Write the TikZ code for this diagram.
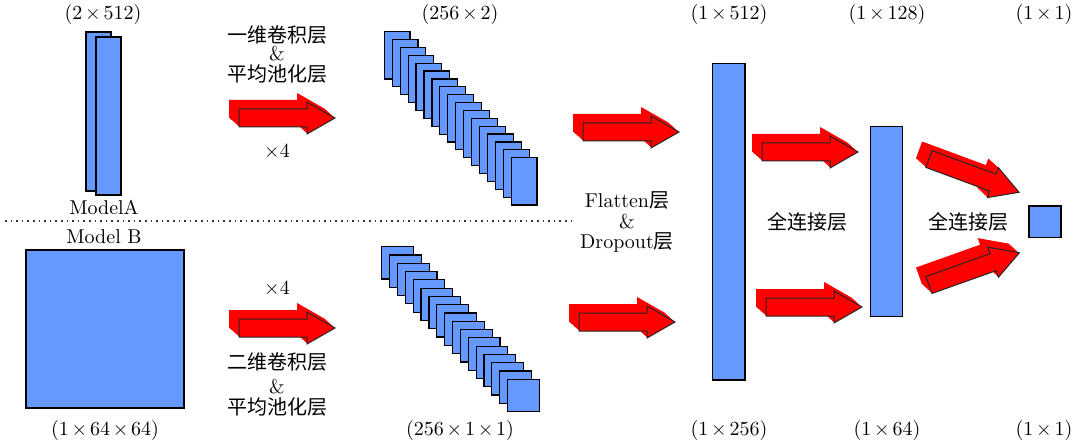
\documentclass[tikz,border=0pt]{standalone}
\usepackage{fontspec}
\newfontfamily\cjk{Noto Sans CJK SC}
\definecolor{layerblue}{HTML}{6699FF}
\definecolor{arrowred}{HTML}{FF0000}
% tighter multiplication sign for the shape labels
\newcommand\tm{\mkern2.5mu{\times}\mkern2.5mu}

% Block arrow with an extruded red body: #1,#2 = tail centre, #3 = angle
\newcommand\fatarrow[3]{%
  \foreach \k in {10,9,...,1}{%
    \fill[arrowred, shift={(-\k,-0.9*\k)}, shift={(#1,#2)}, rotate=#3]
      (0,-9) -- (68,-9) -- (68,-16) -- (96,0) -- (68,16) -- (68,9) -- (0,9) -- cycle;
  }%
  \filldraw[fill=arrowred, draw=black!85, line width=0.5pt, shift={(#1,#2)}, rotate=#3]
    (0,-9) -- (68,-9) -- (68,-16) -- (96,0) -- (68,16) -- (68,9) -- (0,9) -- cycle;
}

\begin{document}
\begin{tikzpicture}[x=0.5pt,y=-0.5pt,
  layer/.style={fill=layerblue, draw=black, line width=0.6pt},
  lbl/.style={inner sep=0pt, anchor=center}]
\useasboundingbox (0,0) rectangle (1079,448);

% ---- Model A input ----
\draw[layer] (86,32) rectangle (111,191);
\draw[layer] (96,37) rectangle (121,195);
\node[lbl] (inA) at (103,15) {$(2\tm512)$};
\node[lbl] (nameA) at (104,207) {ModelA};

% separator between the two models
\draw[dotted, line width=0.8pt, black!80] (5,221) -- (572,221);

% ---- Model B input ----
\node[lbl] (nameB) at (104,237) {Model B};
\draw[layer] (26,250) rectangle (184,408);
\node[lbl] (inB) at (105,430) {$(1\tm64\tm64)$};

% ---- convolution + pooling arrows ----
\fatarrow{239}{118}{0}
\node[lbl] (convA1) at (277,35) {\cjk 一维卷积层};
\node[lbl] (convA2) at (277,54) {\&};
\node[lbl] (convA3) at (277,74) {\cjk 平均池化层};
\node[lbl] (repA) at (277,152) {$\times4$};

\fatarrow{239}{328}{0}
\node[lbl] (repB) at (277,289) {$\times4$};
\node[lbl] (convB1) at (277,362) {\cjk 二维卷积层};
\node[lbl] (convB2) at (277,387) {\&};
\node[lbl] (convB3) at (277,407) {\cjk 平均池化层};

% ---- feature map stacks ----
\foreach \i in {0,...,16}{
  \draw[layer] ({384.3+7.94*\i},{31.7+7.875*\i}) rectangle ++(25.7,47.3);
}
\node[lbl] (mapA) at (460,15) {$(256\tm2)$};

\foreach \i in {0,...,16}{
  \draw[layer] ({381.7+7.87*\i},{246.7+8.29*\i}) rectangle ++(31.7,32.3);
}
\node[lbl] (mapB) at (460,430) {$(256\tm1\tm1)$};

% ---- flatten + dropout ----
\fatarrow{583}{132}{0}
\fatarrow{579}{322}{0}
\node[lbl] (flat1) at (627,200) {Flatten{\cjk 层}};
\node[lbl] (flat2) at (627,222) {\&};
\node[lbl] (flat3) at (627,243) {Dropout{\cjk 层}};

% ---- dense layers ----
\draw[layer] (712.7,63.3) rectangle (745,380);
\node[lbl] (d1top) at (729,15) {$(1\tm512)$};
\node[lbl] (d1bot) at (729,430) {$(1\tm256)$};

\fatarrow{762}{152}{0}
\fatarrow{766}{307}{0}
\node[lbl] (fc1) at (807,222) {\cjk 全连接层};

\draw[layer] (870.7,126.7) rectangle (902.7,316.7);
\node[lbl] (d2top) at (887,15) {$(1\tm128)$};
\node[lbl] (d2bot) at (887,430) {$(1\tm64)$};

\fatarrow{929}{159}{-20.3}
\fatarrow{929}{285}{19.6}
\node[lbl] (fc2) at (968,222) {\cjk 全连接层};

% ---- output ----
\draw[layer] (1029,206) rectangle (1061,237.7);
\node[lbl] (outtop) at (1044,15) {$(1\tm1)$};
\node[lbl] (outbot) at (1044,430) {$(1\tm1)$};
\end{tikzpicture}
\end{document}
